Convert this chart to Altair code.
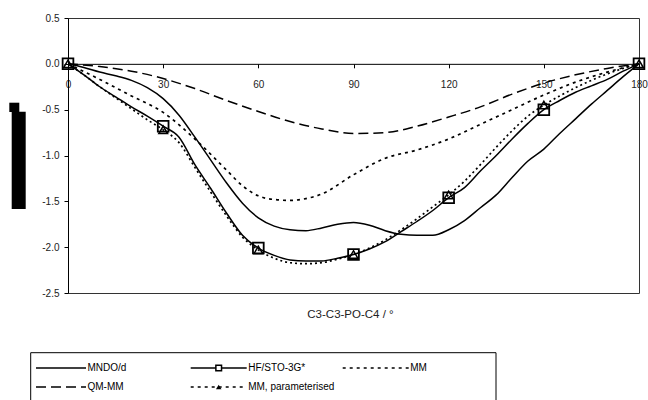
import altair as alt
import pandas as pd

# ---------------- data ----------------
angles5 = list(range(0, 181, 5))
angles10 = list(range(0, 181, 10))

mndo = [0, -0.04, -0.09, -0.13, -0.18, -0.26, -0.38,
        -0.56, -0.80, -1.05, -1.30, -1.52, -1.68,
        -1.77, -1.81, -1.82, -1.79, -1.75, -1.73,
        -1.76, -1.82, -1.86, -1.87, -1.87, -1.81,
        -1.71, -1.57, -1.43, -1.24, -1.06, -0.93,
        -0.76, -0.60, -0.44, -0.29, -0.14, 0]

hf = [0, -0.12, -0.25, -0.36, -0.47, -0.57, -0.68,
      -0.80, -1.10, -1.36, -1.63, -1.87, -2.01,
      -2.09, -2.14, -2.15, -2.15, -2.12, -2.08,
      -2.02, -1.94, -1.83, -1.72, -1.60, -1.46,
      -1.35, -1.17, -1.00, -0.82, -0.65, -0.50,
      -0.40, -0.31, -0.24, -0.17, -0.08, 0]

mm_param = [0, -0.12, -0.25, -0.37, -0.49, -0.61, -0.72,
            -0.86, -1.13, -1.40, -1.66, -1.89, -2.03,
            -2.12, -2.17, -2.18, -2.17, -2.13, -2.08,
            -2.01, -1.92, -1.81, -1.69, -1.56, -1.43,
            -1.28, -1.10, -0.91, -0.73, -0.57, -0.45,
            -0.35, -0.26, -0.18, -0.11, -0.05, 0]

qmmm = [0, -0.03, -0.08, -0.16, -0.27, -0.40, -0.52, -0.63, -0.71, -0.76,
        -0.75, -0.68, -0.58, -0.47, -0.33, -0.21, -0.12, -0.05, 0]

mm_angles = [0, 10, 20, 30, 40, 50, 55, 60, 65, 70, 75, 80, 90, 100, 110,
             120, 130, 140, 150, 160, 170, 180]
mm = [0, -0.17, -0.35, -0.53, -0.82, -1.16, -1.33, -1.44, -1.48, -1.49, -1.47,
      -1.42, -1.21, -1.03, -0.94, -0.82, -0.66, -0.50, -0.34, -0.20, -0.09, 0]

x_ticks = [0, 30, 60, 90, 120, 150, 180]
y_ticks = [-2.5, -2.0, -1.5, -1.0, -0.5, 0.0, 0.5]

rows = []
for a, v in zip(angles5, mndo):
    rows.append(("MNDO/d", a, v))
for a, v in zip(angles5, hf):
    rows.append(("HF/STO-3G*", a, v))
for a, v in zip(mm_angles, mm):
    rows.append(("MM", a, v))
for a, v in zip(angles10, qmmm):
    rows.append(("QM-MM", a, v))
for a, v in zip(angles5, mm_param):
    rows.append(("MM, parameterised", a, v))
df = pd.DataFrame(rows, columns=["series", "angle", "value"])
df["marker"] = df["angle"].isin(x_ticks)

# ---------------- chart ----------------
W, H = 571, 275
FONT = "Liberation Sans"

x_enc = alt.X("angle:Q",
              scale=alt.Scale(domain=[0, 180], nice=False, zero=False),
              axis=alt.Axis(values=x_ticks, orient="bottom", offset=-(H - H * 0.5 / 3.0),
                            title=None, grid=False, tickSize=4, tickColor="black",
                            domainColor="black", labelFont=FONT, labelFontSize=10,
                            labelColor="#222", labelPadding=12, labelFlush=False))
y_enc = alt.Y("value:Q",
              scale=alt.Scale(domain=[-2.5, 0.5], nice=False, zero=False),
              axis=alt.Axis(values=y_ticks, title=None, grid=False, tickSize=4,
                            tickColor="black", domainColor="black", labelFont=FONT,
                            labelFontSize=10, labelColor="#222", labelPadding=5,
                            labelExpr="replace(format(datum.value, '.1f'), '\u2212', '-')"))

base = alt.Chart(df)


def line(series, dash=None, width=1.5):
    kw = dict(color="black", strokeWidth=width, interpolate="monotone")
    if dash:
        kw["strokeDash"] = dash
    return base.transform_filter(alt.datum.series == series).mark_line(**kw).encode(x=x_enc, y=y_enc)


layers = [
    line("QM-MM", [10, 5]),
    line("MM", [3, 4], 1.7),
    line("MNDO/d"),
    line("MM, parameterised", [2, 3], 1.7),
    line("HF/STO-3G*"),
    base.transform_filter((alt.datum.series == "HF/STO-3G*") & alt.datum.marker)
        .mark_point(shape="square", filled=False, size=115, color="black", strokeWidth=1.8, opacity=1)
        .encode(x=x_enc, y=y_enc),
    base.transform_filter((alt.datum.series == "MM, parameterised") & alt.datum.marker)
        .mark_point(shape="triangle-up", filled=False, size=75, color="black", strokeWidth=1.5, opacity=1)
        .encode(x=x_enc, y=y_enc),
]

one = alt.Chart(pd.DataFrame({"k": [0]}))

# x axis title
layers.append(one.mark_text(font=FONT, fontSize=11.5, color="#222", align="center",
                            baseline="middle").encode(
    x=alt.value(W / 2 - 3), y=alt.value(297), text=alt.value("C3-C3-PO-C4 / \u00b0")))

# y axis title (rendered as solid black blocks in the reference)
layers.append(one.mark_rect(color="black").encode(
    x=alt.value(-58.7), x2=alt.value(-48.7), y=alt.value(84.7), y2=alt.value(94)))
layers.append(one.mark_rect(color="black").encode(
    x=alt.value(-56.3), x2=alt.value(-42.3), y=alt.value(93.7), y2=alt.value(191)))

# legend box
layers.append(one.mark_rect(fillOpacity=0, stroke="black", strokeWidth=1).encode(
    x=alt.value(-37.3), x2=alt.value(428), y=alt.value(334.7), y2=alt.value(400)))

r1, r2 = 350, 369
legend_items = [
    ("MNDO/d", -32, 18, r1, None, None),
    ("QM-MM", -32, 18, r2, [10, 5], None),
    ("HF/STO-3G*", 122.7, 178.7, r1, None, "square"),
    ("MM, parameterised", 122.7, 178.7, r2, [3, 4], "triangle-up"),
    ("MM", 274.7, 340.7, r1, [3, 4], None),
]
for label, x1, x2, yy, dash, shape in legend_items:
    kw = dict(color="black", strokeWidth=1.6)
    if dash:
        kw["strokeDash"] = dash
    layers.append(one.mark_rule(**kw).encode(x=alt.value(x1), x2=alt.value(x2), y=alt.value(yy)))
    if shape == "square":
        layers.append(one.mark_point(shape="square", filled=True, size=32, fill="white",
                                     stroke="black", strokeWidth=1.5, opacity=1)
                      .encode(x=alt.value((x1 + x2) / 2), y=alt.value(yy)))
    elif shape:
        layers.append(one.mark_point(shape="triangle-up", filled=True, size=30, color="black",
                                     opacity=1)
                      .encode(x=alt.value((x1 + x2) / 2), y=alt.value(yy)))
    layers.append(one.mark_text(font=FONT, fontSize=10, color="black", align="left",
                                baseline="middle").encode(
        x=alt.value(x2 + 1.5), y=alt.value(yy), text=alt.value(label)))

chart = alt.layer(*layers).properties(
    width=W, height=H,
    autosize=alt.AutoSizeParams(type="none"),
    padding={"left": 68, "top": 18, "right": 9, "bottom": 107},
    background="white",
).configure_view(stroke="#333", strokeWidth=1)

chart.save("out.html", embed_options={"renderer": "svg", "actions": False})
